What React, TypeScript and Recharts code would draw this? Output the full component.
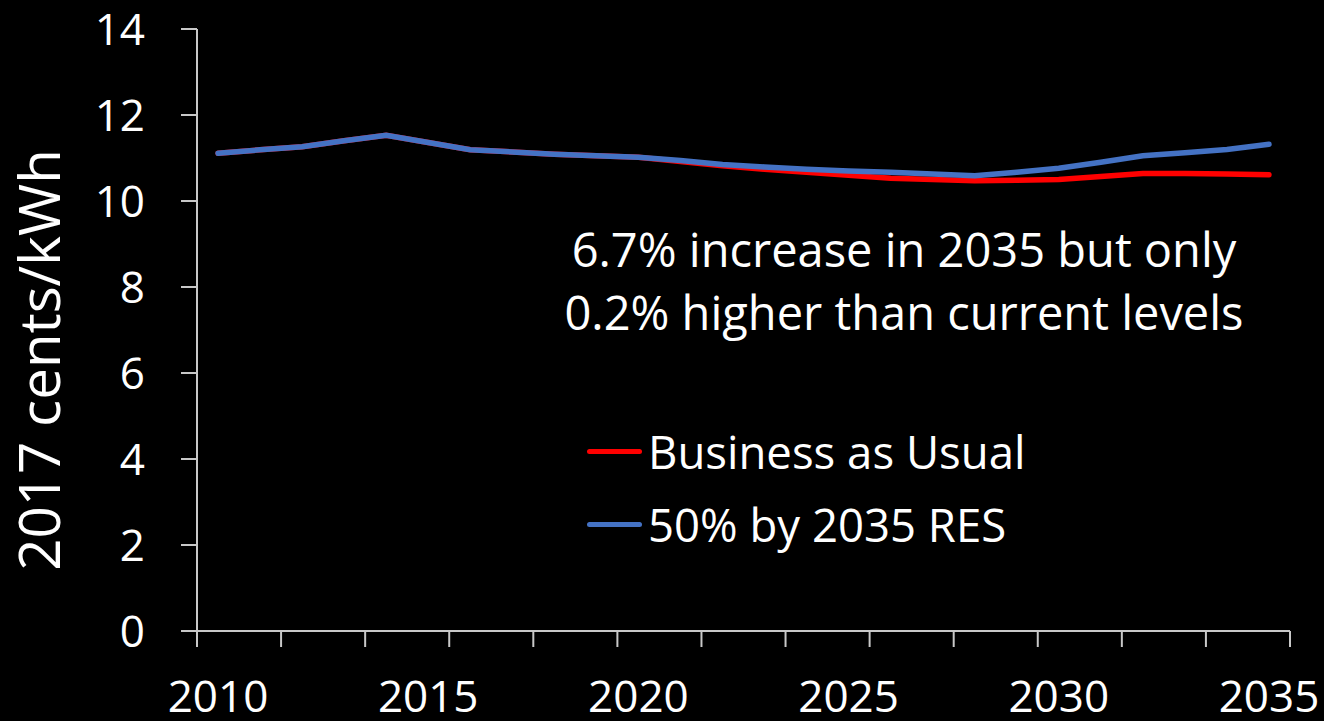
import React from 'react';
import { LineChart, Line, XAxis, YAxis, Legend, Customized } from 'recharts';

const years = [2010, 2011, 2012, 2013, 2014, 2015, 2016, 2017, 2018, 2019, 2020, 2021, 2022, 2023, 2024, 2025, 2026, 2027, 2028, 2029, 2030, 2031, 2032, 2033, 2034, 2035];
const businessAsUsual = [11.11, 11.19, 11.26, 11.4, 11.53, 11.36, 11.19, 11.14, 11.09, 11.05, 11.02, 10.92, 10.82, 10.74, 10.67, 10.6, 10.53, 10.5, 10.47, 10.48, 10.5, 10.57, 10.64, 10.64, 10.63, 10.61];
const res50by2035 = [11.11, 11.19, 11.26, 11.4, 11.53, 11.36, 11.19, 11.14, 11.09, 11.05, 11.02, 10.94, 10.85, 10.79, 10.74, 10.7, 10.67, 10.63, 10.59, 10.67, 10.76, 10.9, 11.05, 11.12, 11.2, 11.32];
const seriesNames = ['Business as Usual', '50% by 2035 RES'];
const seriesColors = ['#FF0000', '#4472C4'];
const yTicks = [0, 2, 4, 6, 8, 10, 12, 14];
const xLabelYears = [2010, 2015, 2020, 2025, 2030, 2035];
const xTickMarks = [2009.5, 2011.5, 2013.5, 2015.5, 2017.5, 2019.5, 2021.5, 2023.5, 2025.5, 2027.5, 2029.5, 2031.5, 2033.5, 2035.5];
const yTitle = '2017 cents/kWh';
const noteLines = ['6.7% increase in 2035 but only', '0.2% higher than current levels'];

const data = years.map((year, i) => ({ year, bau: businessAsUsual[i], res: res50by2035[i] }));
const allXTicks = [...xTickMarks, ...xLabelYears].sort((a, b) => a - b);

const FONT = "'Open Sans', sans-serif";
const AXIS = '#C8C8C8';

const XTick = (props: any) => {
  const { x, y, payload } = props;
  const v = payload.value;
  if (xTickMarks.includes(v)) {
    return <line x1={x} x2={x} y1={y} y2={y + 16} stroke={AXIS} strokeWidth={2} />;
  }
  return (
    <text x={x} y={y + 81} textAnchor="middle" fill="#FFFFFF" fontSize={44} fontFamily={FONT}>
      {v}
    </text>
  );
};

const LegendContent = (props: any) => {
  const payload = [...(props.payload || [])].sort(
    (a: any, b: any) => seriesNames.indexOf(a.value) - seriesNames.indexOf(b.value)
  );
  return (
    <div style={{ fontFamily: FONT }}>
      {payload.map((p: any, i: number) => (
        <div key={i} style={{ display: 'flex', alignItems: 'center', height: 73 }}>
          <div style={{ width: 55, height: 5, borderRadius: 3, background: p.color, marginRight: 6 }} />
          <span style={{ color: '#FFFFFF', fontSize: 45.5, whiteSpace: 'nowrap', lineHeight: '73px' }}>{p.value}</span>
        </div>
      ))}
    </div>
  );
};

const Note = () => (
  <g>
    {noteLines.map((t, i) => (
      <text key={i} x={904} y={267 + i * 63} textAnchor="middle" fill="#FFFFFF" fontSize={47} fontFamily={FONT}>
        {t}
      </text>
    ))}
  </g>
);

export default function App() {
  return (
    <div style={{ position: 'absolute', left: 0, top: 0, width: 1324, height: 721, background: '#000000' }}>
      <LineChart width={1324} height={721} data={data} margin={{ top: 29, right: 34, left: 0, bottom: 0 }}>
        <XAxis
          dataKey="year"
          type="number"
          domain={[2009.5, 2035.5]}
          ticks={allXTicks}
          interval={0}
          tickLine={false}
          tickSize={0}
          tickMargin={0}
          tick={(p: any) => <XTick {...p} />}
          axisLine={{ stroke: AXIS, strokeWidth: 2 }}
          height={90}
        />
        <YAxis
          width={197}
          domain={[0, 14]}
          ticks={yTicks}
          interval={0}
          tickSize={16}
          tickMargin={36}
          tick={{ fill: '#FFFFFF', fontSize: 44, fontFamily: FONT }}
          tickLine={{ stroke: AXIS, strokeWidth: 2 }}
          axisLine={{ stroke: AXIS, strokeWidth: 2 }}
          label={{
            content: () => (
              <text
                transform="translate(60,360) rotate(-90)"
                textAnchor="middle"
                fill="#FFFFFF"
                fontSize={56.5}
                fontFamily={FONT}
              >
                {yTitle}
              </text>
            ),
          }}
        />
        <Line type="linear" dataKey="bau" name={seriesNames[0]} stroke={seriesColors[0]} strokeWidth={5.5} strokeLinecap="round" dot={false} isAnimationActive={false} />
        <Line type="linear" dataKey="res" name={seriesNames[1]} stroke={seriesColors[1]} strokeWidth={5.5} strokeLinecap="round" dot={false} isAnimationActive={false} />
        <Legend
          layout="vertical"
          align="center"
          verticalAlign="middle"
          content={(p: any) => <LegendContent {...p} />}
          wrapperStyle={{ left: 587, top: 415, width: 460, height: 146 }}
        />
        <Customized component={Note} />
      </LineChart>
    </div>
  );
}
